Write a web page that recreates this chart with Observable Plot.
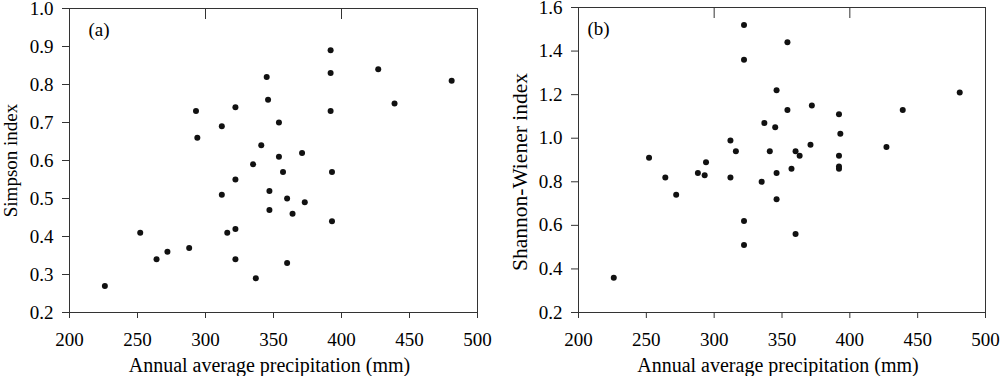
<!DOCTYPE html>
<html><head><meta charset="utf-8">
<script src="https://cdn.jsdelivr.net/npm/d3@7"></script>
<script src="https://cdn.jsdelivr.net/npm/@observablehq/plot@0.6"></script>
<style>
body{margin:0;background:#fff;}
#wrap{display:flex;width:1000px;height:376px;}
</style></head><body><div id="wrap"></div>
<script>
const precipA = [226,252,264,272,288,293,294,312,312,316,322,322,322,322,335,337,341,345,346,347,347,354,354,357,360,360,364,371,373,392,392,392,393,393,427,439,481];
const simpson = [0.27,0.41,0.34,0.36,0.37,0.73,0.66,0.69,0.51,0.41,0.74,0.55,0.42,0.34,0.59,0.29,0.64,0.82,0.76,0.52,0.47,0.70,0.61,0.57,0.50,0.33,0.46,0.62,0.49,0.89,0.83,0.73,0.57,0.44,0.84,0.75,0.81];
const precipB = [226,252,264,272,288,293,294,312,312,316,322,322,322,322,335,337,341,345,346,346,346,354,354,357,360,360,363,371,372,392,393,392,392,392,427,439,481];
const shannon = [0.36,0.91,0.82,0.74,0.84,0.83,0.89,0.99,0.82,0.94,1.52,1.36,0.62,0.51,0.80,1.07,0.94,1.05,1.22,0.84,0.72,1.44,1.13,0.86,0.94,0.56,0.92,0.97,1.15,1.11,1.02,0.92,0.87,0.86,0.96,1.13,1.21];
const xTicks = [200,250,300,350,400,450,500];
const topTicks = [300,400];
const yTicksA = [0.2,0.3,0.4,0.5,0.6,0.7,0.8,0.9,1.0];
const yTicksB = [0.2,0.4,0.6,0.8,1.0,1.2,1.4,1.6];
const panelLabels = ["(a)","(b)"];
const xLabel = "Annual average precipitation (mm)";
const yLabels = ["Simpson index","Shannon-Wiener index"];

function panel(o) {
  const data = o.xs.map((x, i) => ({x, y: o.ys[i]}));
  const frameH = 376 - o.marginTop - 64;
  return Plot.plot({
    width: 500, height: 376,
    marginLeft: o.marginLeft, marginRight: o.marginRight, marginTop: o.marginTop, marginBottom: 64,
    style: {fontFamily: "'Liberation Serif','Times New Roman',serif", fontSize: "19px", color: "#000", background: "#fff"},
    x: {domain: [200, 500], label: null},
    y: {domain: o.yDomain, label: null},
    marks: [
      Plot.frame({stroke: "#333"}),
      Plot.axisX({ticks: xTicks, tickSize: 6, tickPadding: 14, tickFormat: d => String(d), stroke: "#333", label: null}),
      Plot.axisY({ticks: o.yTicks, tickSize: 7, tickPadding: 9, tickFormat: d3.format(".1f"), stroke: "#333", label: null}),
      Plot.tickX(topTicks, {x: d => d, stroke: "#333", insetBottom: frameH - 11}),
      Plot.dot(data, {x: "x", y: "y", r: 3, fill: "#111", stroke: "none"}),
      Plot.text([o.tag], {text: d => d, frameAnchor: "top-left", dx: o.tagDx, dy: 21, lineAnchor: "middle", textAnchor: "start", fontSize: 19}),
      Plot.text([xLabel], {text: d => d, frameAnchor: "bottom", dx: -4, dy: 53, lineAnchor: "middle", textAnchor: "middle", fontSize: 20}),
      Plot.text([o.yLabel], {text: d => d, frameAnchor: "left", rotate: -90, dx: o.yLabelDx, dy: o.yLabelDy, lineAnchor: "middle", textAnchor: "middle", fontSize: o.yLabelSize})
    ]
  });
}

const wrap = document.getElementById("wrap");
wrap.append(panel({xs: precipA, ys: simpson, yDomain: [0.2, 1.0], yTicks: yTicksA, yLabel: yLabels[0], tag: panelLabels[0],
  marginLeft: 69, marginRight: 23, marginTop: 8, tagDx: 19, yLabelDx: -59, yLabelDy: 0, yLabelSize: 19}));
wrap.append(panel({xs: precipB, ys: shannon, yDomain: [0.2, 1.6], yTicks: yTicksB, yLabel: yLabels[1], tag: panelLabels[1],
  marginLeft: 78, marginRight: 15, marginTop: 7, tagDx: 9, yLabelDx: -58, yLabelDy: 12, yLabelSize: 21.5}));
</script></body></html>
